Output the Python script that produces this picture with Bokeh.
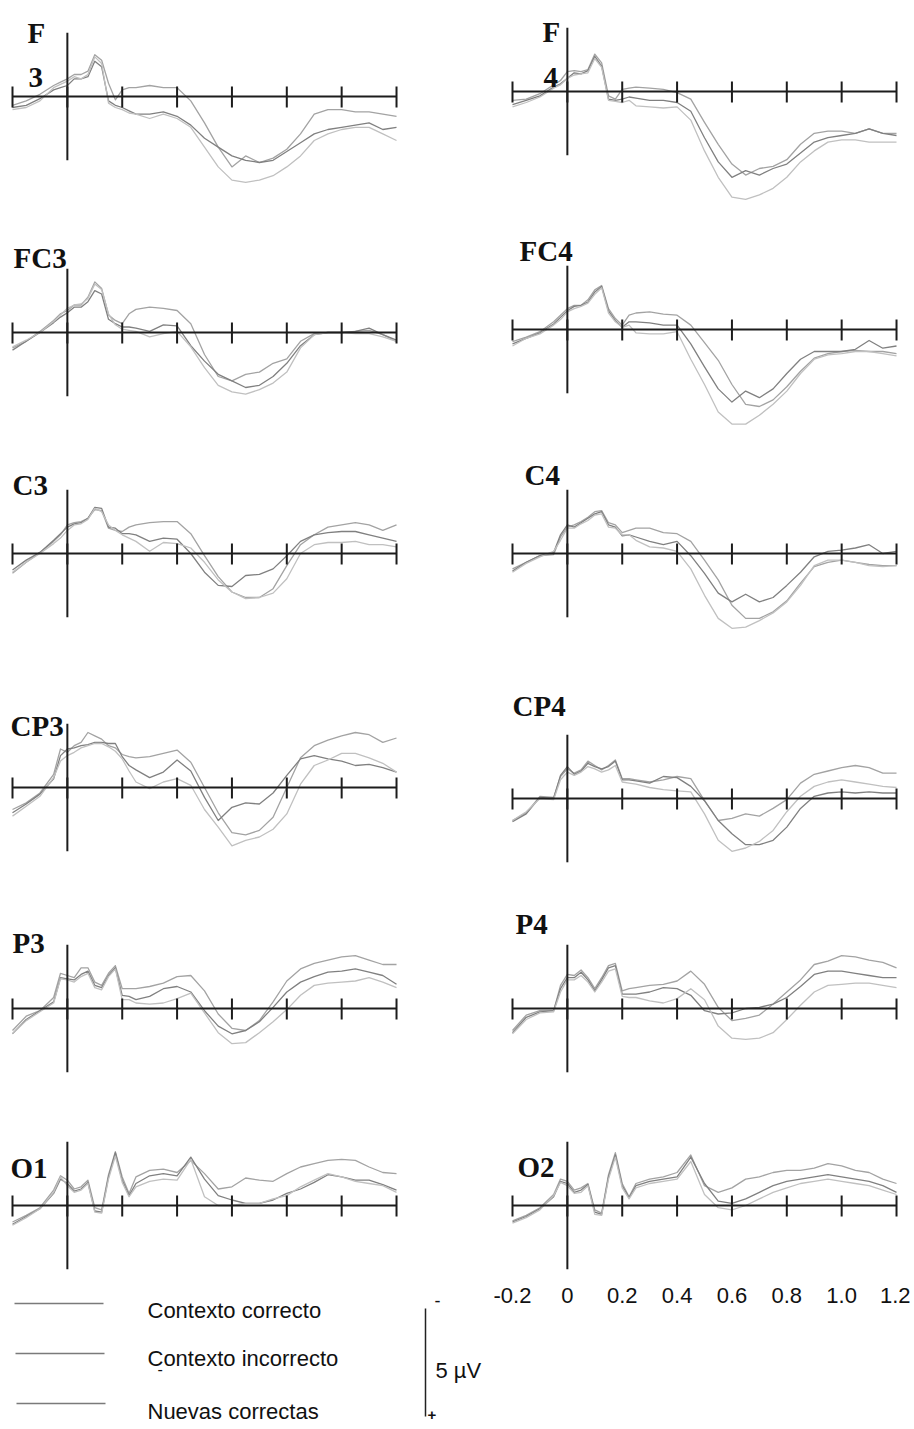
from bokeh.plotting import figure
from bokeh.models import Range1d, LinearAxis, FixedTicker, Label, PrintfTickFormatter
from bokeh.layouts import column, row
from bokeh.embed import file_html
from bokeh.resources import INLINE

# ---------------- data (µV, negative plotted upward) ----------------
T = [-0.2, -0.15, -0.1, -0.05, -0.025, 0.0, 0.025, 0.05, 0.075, 0.1, 0.125, 0.15, 0.175,
     0.2, 0.225, 0.25, 0.3, 0.35, 0.4, 0.45, 0.5, 0.55, 0.6, 0.65, 0.7, 0.75, 0.8, 0.85,
     0.9, 0.95, 1.0, 1.05, 1.1, 1.15, 1.2]
TICKS = [-0.2, 0.0, 0.2, 0.4, 0.6, 0.8, 1.0, 1.2]
SERIES = ["Contexto correcto", "Contexto incorrecto", "Nuevas correctas"]
COLORS = ["#a3a3a3", "#808080", "#c0c0c0"]

F3_CC = [0.4, 0.2, -0.1, -0.5, -0.65, -0.8, -1.0, -1.0, -1.15, -1.9, -1.65, -0.6, 0.15, -0.3, -0.4,
         -0.4, -0.5, -0.4, -0.4, 0.2, 1.2, 2.3, 3.2, 2.7, 3.0, 2.8, 2.4, 1.7, 0.8, 0.6, 0.6, 0.7, 0.7, 0.8, 0.9]
F3_CI = [0.5, 0.4, 0.1, -0.3, -0.4, -0.5, -0.8, -0.8, -0.9, -1.6, -1.35, 0.2, 0.4, 0.5, 0.65,
         0.8, 0.8, 0.7, 0.9, 1.3, 1.9, 2.3, 2.7, 2.9, 3.0, 2.9, 2.5, 2.1, 1.7, 1.5, 1.4, 1.3, 1.2, 1.5, 1.4]
F3_NC = [0.6, 0.5, 0.2, -0.4, -0.55, -0.7, -0.9, -0.8, -1.0, -1.8, -1.5, 0.3, 0.5, 0.6, 0.75,
         0.8, 1.0, 0.8, 1.0, 1.4, 2.3, 3.2, 3.8, 3.9, 3.8, 3.6, 3.2, 2.7, 2.0, 1.7, 1.5, 1.4, 1.4, 1.7, 2.0]

F4_CC = [0.4, 0.35, 0.1, -0.3, -0.5, -0.9, -0.95, -0.9, -1.0, -1.7, -1.3, 0.2, 0.35, -0.1, -0.15,
         -0.2, -0.15, -0.1, 0.05, 0.35, 1.4, 2.4, 3.3, 3.8, 3.5, 3.4, 3.1, 2.4, 1.9, 1.8, 1.8, 1.9, 1.7, 1.9, 1.9]
F4_CI = [0.6, 0.4, 0.2, -0.2, -0.35, -0.6, -0.85, -0.8, -0.95, -1.6, -1.15, 0.35, 0.4, 0.35, 0.25,
         0.3, 0.4, 0.4, 0.5, 0.9, 2.1, 3.2, 3.9, 3.6, 3.8, 3.5, 3.3, 2.8, 2.3, 2.1, 2.0, 1.9, 1.7, 1.9, 2.0]
F4_NC = [0.7, 0.5, 0.25, -0.15, -0.3, -0.6, -0.75, -0.8, -0.85, -1.5, -1.1, 0.4, 0.45, 0.5, 0.4,
         0.65, 0.7, 0.75, 0.7, 1.3, 2.7, 3.9, 4.8, 4.9, 4.7, 4.4, 3.9, 3.2, 2.7, 2.3, 2.2, 2.2, 2.3, 2.3, 2.3]

FC3_CC = [0.7, 0.4, -0.05, -0.55, -0.85, -1.0, -1.25, -1.25, -1.6, -2.3, -2.0, -0.8, -0.55, -0.4, -0.85,
          -1.05, -1.15, -1.1, -1.0, -0.4, 1.0, 2.0, 2.2, 1.9, 1.8, 1.4, 1.2, 0.4, 0.05, 0.0, 0.0, -0.05, -0.1, 0.1, 0.4]
FC3_CI = [0.8, 0.4, 0.0, -0.45, -0.7, -0.9, -1.15, -1.15, -1.4, -1.9, -1.75, -0.6, -0.4, -0.25, -0.25,
          -0.2, -0.05, -0.35, -0.3, 0.6, 1.3, 1.9, 2.2, 2.5, 2.4, 2.0, 1.4, 0.6, 0.1, 0.0, 0.0, -0.05, -0.2, 0.1, 0.35]
FC3_NC = [0.65, 0.35, 0.0, -0.5, -0.8, -1.1, -1.25, -1.3, -1.55, -2.2, -1.95, -0.85, -0.35, -0.15, -0.1,
          -0.05, 0.2, 0.05, -0.05, 0.65, 1.6, 2.4, 2.7, 2.8, 2.6, 2.3, 1.8, 0.7, 0.1, 0.0, 0.0, 0.05, 0.05, 0.2, 0.4]

FC4_CC = [0.55, 0.35, 0.1, -0.35, -0.65, -0.95, -1.1, -1.1, -1.35, -1.8, -2.0, -0.95, -0.5, -0.2, -0.65,
          -0.75, -0.8, -0.7, -0.65, -0.2, 0.6, 1.4, 2.5, 3.4, 3.5, 3.2, 2.6, 1.9, 1.3, 1.1, 1.0, 0.95, 1.0, 1.0, 1.1]
FC4_CI = [0.65, 0.4, 0.15, -0.25, -0.55, -0.85, -1.05, -1.1, -1.25, -1.7, -1.95, -0.85, -0.4, -0.1, -0.35,
          -0.35, -0.3, -0.2, -0.2, 0.65, 1.7, 2.7, 3.3, 2.8, 3.1, 2.7, 2.0, 1.35, 1.0, 1.0, 1.0, 0.9, 0.5, 0.85, 0.75]
FC4_NC = [0.75, 0.4, 0.2, -0.2, -0.45, -0.8, -0.95, -1.05, -1.2, -1.6, -1.9, -0.75, -0.35, -0.1, -0.2,
          0.15, 0.2, 0.2, 0.1, 1.35, 2.5, 3.75, 4.3, 4.3, 3.9, 3.4, 2.8, 2.0, 1.35, 1.15, 1.1, 1.0, 1.0, 1.1, 1.2]

C3_CC = [0.9, 0.4, -0.05, -0.55, -0.85, -1.3, -1.4, -1.45, -1.6, -2.0, -1.95, -1.15, -1.05, -1.0, -1.2,
         -1.3, -1.4, -1.45, -1.45, -0.9, 0.1, 1.05, 1.75, 2.0, 2.0, 1.6, 0.55, -0.4, -0.85, -1.2, -1.3, -1.4, -1.3, -1.05, -1.3]
C3_CI = [0.75, 0.3, -0.05, -0.6, -0.9, -1.2, -1.35, -1.4, -1.6, -2.1, -2.05, -1.2, -1.15, -0.9, -0.9,
         -0.85, -0.55, -0.7, -0.65, 0.0, 0.85, 1.45, 1.5, 1.0, 0.95, 0.7, 0.1, -0.55, -0.85, -0.95, -1.0, -1.0, -0.85, -0.7, -0.55]
C3_NC = [0.85, 0.4, 0.0, -0.45, -0.7, -1.05, -1.3, -1.35, -1.55, -2.05, -1.9, -1.3, -1.05, -0.85, -0.7,
         -0.55, -0.1, -0.5, -0.45, -0.25, 0.4, 1.2, 1.75, 2.05, 2.0, 1.8, 1.15, 0.0, -0.4, -0.5, -0.5, -0.55, -0.4, -0.4, -0.3]

C4_CC = [0.7, 0.4, 0.1, 0.05, -0.75, -1.2, -1.3, -1.45, -1.65, -1.9, -1.95, -1.4, -1.3, -0.95, -1.05,
         -1.15, -1.15, -0.95, -0.9, -0.55, 0.3, 1.2, 2.35, 2.95, 2.95, 2.65, 2.15, 1.35, 0.6, 0.4, 0.3, 0.4, 0.5, 0.55, 0.55]
C4_CI = [0.8, 0.4, 0.1, -0.05, -0.85, -1.3, -1.2, -1.4, -1.6, -1.8, -1.9, -1.3, -1.2, -0.8, -0.85,
         -0.75, -0.55, -0.4, -0.55, 0.1, 0.9, 1.8, 2.2, 1.85, 2.2, 2.0, 1.45, 0.85, 0.15, -0.1, -0.15, -0.25, -0.4, 0.0, -0.1]
C4_NC = [0.85, 0.45, 0.15, -0.1, -0.6, -1.15, -1.15, -1.35, -1.5, -1.75, -1.8, -1.2, -1.15, -0.85, -0.85,
         -0.6, -0.3, -0.25, -0.1, 0.7, 1.9, 2.95, 3.4, 3.35, 3.05, 2.7, 2.2, 1.45, 0.55, 0.3, 0.3, 0.4, 0.55, 0.6, 0.55]

CP3_CC = [1.0, 0.7, 0.25, -0.6, -1.75, -1.6, -1.9, -2.05, -2.5, -2.35, -2.2, -1.9, -1.8, -1.5, -1.4,
          -1.35, -1.4, -1.55, -1.7, -1.15, 0.0, 1.15, 2.05, 2.15, 1.95, 1.35, 0.0, -1.35, -1.9, -2.15, -2.35, -2.5, -2.4, -2.05, -2.25]
CP3_CI = [1.15, 0.75, 0.3, -0.4, -1.45, -1.75, -1.8, -1.9, -1.95, -2.05, -2.05, -2.0, -2.0, -1.4, -1.0,
          -0.8, -0.45, -0.7, -1.25, -0.75, 0.45, 1.5, 0.9, 0.7, 0.75, 0.25, -0.55, -1.3, -1.45, -1.3, -1.2, -1.0, -1.05, -0.9, -0.7]
CP3_NC = [1.3, 0.85, 0.4, -0.45, -1.2, -1.45, -1.6, -1.8, -1.9, -2.0, -2.0, -1.85, -1.65, -1.3, -0.75,
          -0.25, 0.05, -0.25, -0.4, -0.1, 1.0, 1.8, 2.65, 2.4, 2.25, 1.9, 1.2, -0.15, -1.0, -1.25, -1.55, -1.55, -1.35, -1.1, -0.7]

CP4_CC = [1.0, 0.65, -0.1, -0.05, -1.0, -1.35, -1.15, -1.3, -1.7, -1.5, -1.3, -1.5, -1.75, -0.9, -0.9,
          -0.85, -0.75, -0.85, -1.0, -0.9, 0.1, 1.0, 0.9, 0.7, 0.8, 0.45, 0.05, -0.7, -1.1, -1.25, -1.4, -1.5, -1.4, -1.15, -1.15]
CP4_CI = [1.05, 0.7, -0.05, 0.0, -1.05, -1.45, -1.1, -1.25, -1.6, -1.45, -1.35, -1.45, -1.7, -0.85, -0.85,
          -0.8, -0.7, -1.0, -0.95, -0.55, 0.1, 1.0, 1.6, 2.1, 2.1, 1.9, 1.3, 0.45, -0.1, -0.25, -0.3, -0.25, -0.3, -0.25, -0.25]
CP4_NC = [1.0, 0.6, 0.0, 0.05, -0.85, -1.2, -1.05, -1.2, -1.45, -1.35, -1.2, -1.3, -1.5, -0.75, -0.7,
          -0.65, -0.5, -0.4, -0.35, -0.3, 0.7, 1.9, 2.4, 2.25, 1.95, 1.45, 0.6, -0.1, -0.55, -0.75, -0.85, -0.75, -0.65, -0.55, -0.5]

P3_CC = [1.0, 0.35, 0.1, -0.5, -1.6, -1.5, -1.4, -1.85, -1.85, -1.2, -1.05, -1.6, -1.95, -0.9, -0.9,
         -0.9, -1.0, -1.15, -1.45, -1.5, -0.8, 0.25, 0.9, 1.0, 0.55, -0.3, -1.25, -1.8, -2.05, -2.2, -2.35, -2.4, -2.2, -2.0, -2.0]
P3_CI = [1.15, 0.5, 0.1, -0.3, -1.4, -1.35, -1.3, -1.55, -1.7, -1.05, -0.95, -1.5, -1.85, -0.6, -0.55,
         -0.4, -0.55, -0.9, -1.0, -0.75, 0.1, 0.8, 1.15, 1.0, 0.6, -0.05, -0.75, -1.2, -1.45, -1.65, -1.7, -1.8, -1.65, -1.5, -1.1]
P3_NC = [1.15, 0.55, 0.15, -0.25, -1.35, -1.3, -1.2, -1.45, -1.6, -0.95, -0.85, -1.45, -1.8, -0.4, -0.4,
         -0.25, -0.2, -0.25, -0.45, -0.7, 0.2, 1.1, 1.6, 1.55, 1.1, 0.6, 0.05, -0.6, -1.05, -1.15, -1.2, -1.25, -1.4, -1.2, -0.95]

P4_CC = [1.0, 0.3, 0.1, 0.1, -1.05, -1.55, -1.5, -1.75, -1.4, -0.9, -1.4, -1.95, -2.05, -0.8, -0.9,
         -0.95, -1.05, -1.1, -1.25, -1.7, -1.1, -0.05, 0.55, 0.45, 0.3, -0.2, -0.75, -1.3, -2.0, -2.15, -2.4, -2.35, -2.2, -2.1, -1.85]
P4_CI = [1.1, 0.4, 0.15, 0.1, -0.9, -1.4, -1.4, -1.65, -1.3, -0.8, -1.3, -1.85, -1.95, -0.65, -0.65,
         -0.65, -0.75, -0.95, -0.9, -0.6, 0.1, 0.25, 0.2, 0.0, -0.05, -0.2, -0.5, -1.0, -1.55, -1.7, -1.7, -1.6, -1.5, -1.4, -1.4]
P4_NC = [1.15, 0.5, 0.2, 0.15, -0.75, -1.3, -1.3, -1.5, -1.2, -0.75, -1.2, -1.7, -1.8, -0.55, -0.5,
         -0.5, -0.35, -0.25, -0.45, -0.9, -0.4, 0.8, 1.35, 1.4, 1.35, 1.1, 0.5, -0.15, -0.75, -1.05, -1.1, -1.15, -1.15, -1.05, -0.95]

O1_CC = [0.75, 0.45, 0.1, -0.7, -1.35, -1.15, -0.75, -0.85, -1.15, 0.1, 0.2, -1.4, -2.45, -1.3, -0.55,
         -1.3, -1.6, -1.65, -1.5, -2.05, -1.45, -0.75, -0.85, -1.25, -1.15, -1.1, -1.45, -1.75, -1.9, -2.05, -2.1, -2.05, -1.75, -1.5, -1.45]
O1_CI = [0.85, 0.5, 0.15, -0.55, -1.2, -1.0, -0.65, -0.75, -1.05, 0.25, 0.3, -1.3, -2.4, -1.15, -0.45,
         -1.0, -1.35, -1.45, -1.35, -2.2, -1.2, -0.45, -0.25, -0.1, -0.1, -0.25, -0.55, -0.75, -1.05, -1.4, -1.3, -1.15, -1.15, -0.95, -0.7]
O1_NC = [0.9, 0.55, 0.15, -0.6, -1.3, -0.9, -0.6, -0.7, -1.0, 0.3, 0.35, -1.2, -2.25, -1.05, -0.4,
         -0.85, -1.1, -1.2, -1.15, -2.1, -0.4, 0.0, 0.0, -0.1, -0.1, -0.3, -0.45, -0.85, -1.15, -1.45, -1.3, -1.1, -1.0, -0.9, -0.6]

O2_CC = [0.7, 0.45, 0.1, -0.5, -1.2, -1.1, -0.7, -0.8, -1.0, 0.2, 0.35, -1.4, -2.4, -1.0, -0.4,
         -1.0, -1.2, -1.3, -1.5, -2.3, -0.9, -0.6, -0.8, -1.2, -1.3, -1.5, -1.6, -1.6, -1.7, -1.9, -1.8, -1.6, -1.5, -1.2, -1.0]
O2_CI = [0.75, 0.5, 0.15, -0.4, -1.1, -1.0, -0.6, -0.7, -0.95, 0.3, 0.4, -1.3, -2.3, -0.9, -0.35,
         -0.9, -1.1, -1.2, -1.3, -2.2, -1.0, -0.2, -0.1, -0.3, -0.6, -0.9, -1.1, -1.2, -1.3, -1.4, -1.3, -1.2, -1.1, -0.9, -0.6]
O2_NC = [0.8, 0.55, 0.2, -0.45, -1.05, -0.9, -0.55, -0.6, -0.9, 0.4, 0.45, -1.2, -2.2, -0.8, -0.3,
         -0.8, -1.0, -1.1, -1.2, -2.0, -0.5, 0.1, 0.2, 0.0, -0.3, -0.6, -0.8, -1.0, -1.1, -1.2, -1.1, -1.0, -0.9, -0.7, -0.5]

# ---------------- layout constants (page pixels) ----------------
S = 274.3      # px per second
PX = 22.0      # px per µV
AXIS_HALF = 2.9   # half length of the vertical (µV) axis
ROWS = [(0, 205), (205, 440), (440, 665), (665, 890), (890, 1100), (1100, 1280)]

LEFT = [
    (["F", "3"], [(27, 32), (28, 77)], 96, (F3_CC, F3_CI, F3_NC)),
    (["FC3"], [(13, 257)], 332, (FC3_CC, FC3_CI, FC3_NC)),
    (["C3"], [(12, 484)], 553, (C3_CC, C3_CI, C3_NC)),
    (["CP3"], [(10, 725)], 787, (CP3_CC, CP3_CI, CP3_NC)),
    (["P3"], [(12, 942)], 1008, (P3_CC, P3_CI, P3_NC)),
    (["O1"], [(10, 1167)], 1205, (O1_CC, O1_CI, O1_NC)),
]
RIGHT = [
    (["F", "4"], [(542, 31), (543, 77)], 91, (F4_CC, F4_CI, F4_NC)),
    (["FC4"], [(519, 250)], 329, (FC4_CC, FC4_CI, FC4_NC)),
    (["C4"], [(524, 474)], 553, (C4_CC, C4_CI, C4_NC)),
    (["CP4"], [(512, 705)], 798, (CP4_CC, CP4_CI, CP4_NC)),
    (["P4"], [(515, 923)], 1008, (P4_CC, P4_CI, P4_NC)),
    (["O2"], [(517, 1166)], 1205, (O2_CC, O2_CI, O2_NC)),
]
AX_COL = "#1c1c1c"


def panel(side, top, bottom, spec):
    texts, pos, zero, data = spec
    if side == "L":
        w, page_left, x0 = 458, 0, 12
    else:
        w, page_left, x0 = 452, 458, 512
    xs = -0.2 + (page_left - x0) / S
    p = figure(width=w, height=bottom - top,
               x_range=Range1d(xs, xs + w / S),
               y_range=Range1d((bottom - zero) / PX, (top - zero) / PX),
               output_backend="svg", toolbar_location=None,
               x_axis_location=None, y_axis_location=None, min_border=0)
    p.outline_line_color = None
    p.grid.visible = False
    p.background_fill_color = "white"
    p.border_fill_color = "white"

    for vals, col in zip(data, COLORS):
        p.line(T, vals, line_color=col, line_width=1.3, line_join="round")

    # time axis through 0 µV, with crossing ticks; µV axis through t = 0
    p.line([TICKS[0], TICKS[-1]], [0, 0], line_color=AX_COL, line_width=2)
    p.segment(x0=TICKS, y0=[-10 / PX] * len(TICKS), x1=TICKS, y1=[11 / PX] * len(TICKS),
              line_color=AX_COL, line_width=2)
    p.line([0, 0], [-AXIS_HALF, AXIS_HALF], line_color=AX_COL, line_width=2)

    for txt, (px_, py_) in zip(texts, pos):
        p.add_layout(Label(x=-0.2 + (px_ - x0) / S, y=(py_ - zero) / PX, text=txt,
                           text_font="Liberation Serif", text_font_style="bold",
                           text_font_size="29px", text_baseline="alphabetic",
                           text_color="#111111"))
    return p


rows = []
for (top, bottom), l, r in zip(ROWS, LEFT, RIGHT):
    rows.append(row(panel("L", top, bottom, l), panel("R", top, bottom, r)))

# ---------------- legend / scale / time labels ----------------
LG_TOP, LG_BOT = 1280, 1427
lg = figure(width=910, height=LG_BOT - LG_TOP, x_range=Range1d(0, 910),
            y_range=Range1d(LG_BOT, LG_TOP), output_backend="svg",
            toolbar_location=None, x_axis_location=None, y_axis_location=None,
            min_border=0)
lg.outline_line_color = None
lg.grid.visible = False
lg.extra_x_ranges = {"time": Range1d(-0.2 + (0 - 512) / S, -0.2 + (910 - 512) / S)}

ta = LinearAxis(x_range_name="time", fixed_location=1287,
                ticker=FixedTicker(ticks=TICKS),
                formatter=PrintfTickFormatter(format="%.1f"),
                major_label_overrides={0: "0"},
                axis_line_color=None, major_tick_line_color=None,
                minor_tick_line_color=None, major_tick_in=0, major_tick_out=0,
                major_label_standoff=0, major_label_text_font="Liberation Sans",
                major_label_text_font_size="22px", major_label_text_color="#111111")
lg.add_layout(ta, "below")

KEY_X = [(14, 103), (15, 104), (16, 105)]
KEY_Y = [1303, 1353, 1403]
TXT_Y = [1310, 1358, 1411]
for name, col, (xa_, xb_), ky, ty in zip(SERIES, COLORS, KEY_X, KEY_Y, TXT_Y):
    lg.line([xa_, xb_], [ky, ky], line_color="#7a7a7a", line_width=1.3)
    lg.add_layout(Label(x=147, y=ty, text=name, text_font="Liberation Sans",
                        text_font_size="22px", text_baseline="alphabetic",
                        text_color="#111111"))

lg.add_layout(Label(x=157, y=1368, text="-", text_font="Liberation Sans",
                    text_font_size="16px", text_baseline="middle", text_color="#111111"))
lg.line([425, 425], [1308, 1416], line_color="#222222", line_width=1.5)
lg.add_layout(Label(x=434, y=1300, text="-", text_font="Liberation Sans",
                    text_font_size="18px", text_baseline="middle", text_color="#111111"))
lg.add_layout(Label(x=427, y=1414, text="+", text_font="Liberation Sans",
                    text_font_size="15px", text_font_style="bold",
                    text_baseline="middle", text_color="#111111"))
lg.add_layout(Label(x=435, y=1370, text="5 µV", text_font="Liberation Sans",
                    text_font_size="22px", text_baseline="alphabetic", text_color="#111111"))

layout = column(*rows, lg)
open("out.html", "w").write(file_html(layout, INLINE))
